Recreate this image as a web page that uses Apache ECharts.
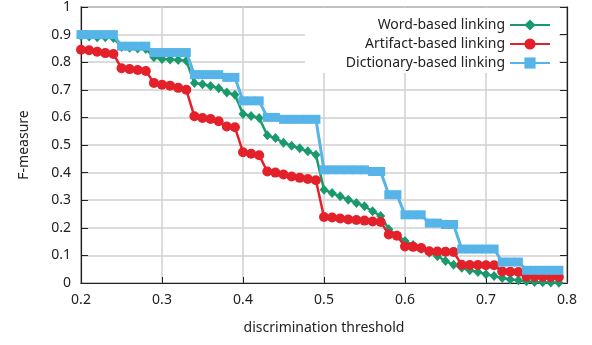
<!DOCTYPE html>
<html>
<head>
<meta charset="utf-8">
<script src="https://cdn.jsdelivr.net/npm/echarts@6/dist/echarts.min.js"></script>
<style>html,body{margin:0;padding:0;background:#fff;}#c{width:592px;height:345px;}</style>
</head>
<body>
<div id="c"></div>
<script>
const thresholds = [0.20,0.21,0.22,0.23,0.24,0.25,0.26,0.27,0.28,0.29,
  0.30,0.31,0.32,0.33,0.34,0.35,0.36,0.37,0.38,0.39,
  0.40,0.41,0.42,0.43,0.44,0.45,0.46,0.47,0.48,0.49,
  0.50,0.51,0.52,0.53,0.54,0.55,0.56,0.57,0.58,0.59,
  0.60,0.61,0.62,0.63,0.64,0.65,0.66,0.67,0.68,0.69,
  0.70,0.71,0.72,0.73,0.74,0.75,0.76,0.77,0.78,0.79];
const wordBased = [0.895,0.893,0.89,0.89,0.888,0.855,0.852,0.85,0.848,0.818,
  0.812,0.81,0.808,0.805,0.725,0.72,0.714,0.706,0.69,0.682,
  0.612,0.605,0.598,0.535,0.525,0.508,0.497,0.488,0.477,0.465,
  0.338,0.326,0.314,0.302,0.29,0.278,0.26,0.243,0.195,0.173,
  0.152,0.138,0.123,0.11,0.097,0.08,0.066,0.055,0.046,0.04,
  0.032,0.025,0.018,0.013,0.01,0.006,0.004,0.003,0.002,0.001];
const artifactBased = [0.845,0.843,0.838,0.833,0.83,0.778,0.775,0.772,0.768,0.725,
  0.718,0.715,0.707,0.7,0.604,0.598,0.594,0.586,0.567,0.564,
  0.474,0.468,0.463,0.404,0.4,0.393,0.386,0.381,0.377,0.372,
  0.239,0.237,0.234,0.23,0.228,0.226,0.223,0.221,0.176,0.171,
  0.132,0.131,0.127,0.115,0.114,0.113,0.112,0.066,0.065,0.065,
  0.064,0.064,0.042,0.041,0.04,0.024,0.023,0.023,0.022,0.022];
const dictionaryBased = [0.9,0.9,0.9,0.9,0.9,0.858,0.858,0.858,0.858,0.835,
  0.835,0.835,0.835,0.835,0.755,0.755,0.755,0.755,0.745,0.745,
  0.66,0.66,0.66,0.6,0.6,0.593,0.593,0.593,0.593,0.593,
  0.41,0.41,0.41,0.41,0.41,0.41,0.404,0.404,0.32,0.32,
  0.247,0.247,0.247,0.217,0.217,0.212,0.212,0.123,0.123,0.123,
  0.123,0.123,0.076,0.076,0.076,0.046,0.046,0.046,0.046,0.046];
const seriesNames = ['Word-based linking','Artifact-based linking','Dictionary-based linking'];
const xTicks = [0.2,0.3,0.4,0.5,0.6,0.7,0.8];

const FONT = 'Noto Sans';
const pairs = arr => thresholds.map((t,i)=>[t,arr[i]]);

const chart = echarts.init(document.getElementById('c'), null, {renderer:'canvas'});
chart.setOption({
  animation:false,
  backgroundColor:'#fff',
  grid:{left:81,right:25,top:7,bottom:62,show:true,borderColor:'#222',borderWidth:1.2,containLabel:false},
  graphic:[{type:'rect',z:1,shape:{x:305,y:8,width:254,height:65},style:{fill:'#fff'},silent:true}],
  legend:{
    orient:'vertical', right:36, top:13, align:'right',
    itemWidth:40, itemHeight:14, itemGap:5,
    textStyle:{fontFamily:FONT,fontSize:14,color:'#222'},
    data:[
      {name:seriesNames[0],itemStyle:{}},
      {name:seriesNames[1]},
      {name:seriesNames[2]}
    ]
  },
  xAxis:{
    type:'value', min:0.2, max:0.8, interval:0.1,
    name:'discrimination threshold', nameLocation:'middle', nameGap:38,
    nameTextStyle:{fontFamily:FONT,fontSize:14,color:'#222'},
    axisLine:{show:true,lineStyle:{color:'#222',width:1.2}},
    axisTick:{show:true,inside:true,length:6,lineStyle:{color:'#222'}},
    axisLabel:{fontFamily:FONT,fontSize:14,color:'#222',margin:10,formatter:v=>xTicks.includes(Math.round(v*10)/10)?v.toFixed(1):''},
    splitLine:{show:true,lineStyle:{color:'#d0d0d0',width:1.5}}
  },
  yAxis:[{
    type:'value', min:0, max:1, interval:0.1,
    name:'F-measure', nameLocation:'middle', nameGap:50, nameRotate:90,
    nameTextStyle:{fontFamily:FONT,fontSize:14,color:'#222'},
    axisLine:{show:true,lineStyle:{color:'#222',width:1.2}},
    axisTick:{show:true,inside:true,length:7,lineStyle:{color:'#222'}},
    axisLabel:{fontFamily:FONT,fontSize:14,color:'#222',margin:10,formatter:v=>{const r=Math.round(v*10)/10;return r===0?'0':(r===1?'1':r.toFixed(1));}},
    splitLine:{show:true,lineStyle:{color:'#d0d0d0',width:1.5}}
  },{
    type:'value', min:0, max:1, interval:0.1, position:'right',
    axisLine:{show:true,lineStyle:{color:'#222',width:1.2}},
    axisTick:{show:true,inside:true,length:7,lineStyle:{color:'#222'}},
    axisLabel:{show:false}, splitLine:{show:false}
  }],
  series:[
    {name:seriesNames[0],type:'line',data:pairs(wordBased),symbol:'diamond',symbolSize:[9,10],
      lineStyle:{color:'#1a9a6c',width:2.5},itemStyle:{color:'#1a9a6c'},z:2},
    {name:seriesNames[1],type:'line',data:pairs(artifactBased),symbol:'circle',symbolSize:10,
      lineStyle:{color:'#e4202a',width:2.5},itemStyle:{color:'#e4202a'},z:3},
    {name:seriesNames[2],type:'line',data:pairs(dictionaryBased),symbol:'rect',symbolSize:9,
      lineStyle:{color:'#56b4e9',width:3},itemStyle:{color:'#56b4e9'},z:4}
  ]
});
</script>
</body>
</html>
